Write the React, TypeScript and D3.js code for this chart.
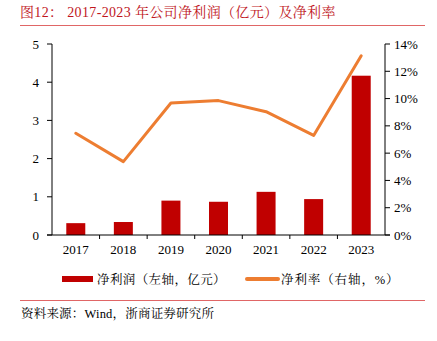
import React from "react";
import * as d3 from "d3";

const years = ["2017", "2018", "2019", "2020", "2021", "2022", "2023"];
const netProfit = [0.31, 0.34, 0.9, 0.87, 1.13, 0.94, 4.17];
const netMargin = [7.46, 5.38, 9.68, 9.85, 9.04, 7.3, 13.14];
const leftTicks = [0, 1, 2, 3, 4, 5];
const rightTicks = [0, 2, 4, 6, 8, 10, 12, 14];

const W = 437;
const H = 341;
const serif = "'Liberation Serif', 'Times New Roman', 'Noto Sans CJK SC', serif";
const cjk = "'Liberation Serif', 'Noto Serif CJK SC', 'Noto Sans CJK SC', serif";

export default function App() {
  const left = 52;
  const right = 385;
  const top = 44;
  const bottom = 235;
  const xb = d3.scaleBand<string>().domain(years).range([left, right]);
  const yL = d3.scaleLinear().domain([0, 5]).range([bottom, top]);
  const yR = d3.scaleLinear().domain([0, 14]).range([bottom, top]);
  const line = d3
    .line<number>()
    .x((_, i) => (xb(years[i]) as number) + xb.bandwidth() / 2)
    .y((d) => yR(d));

  return (
    <svg width={W} height={H} style={{ position: "absolute", left: 0, top: 0, background: "#fff" }}>
      <text x={20} y={17} fontSize={14} fill="#c0161d" fontFamily={cjk} letterSpacing={0.35}>
        图12：  2017-2023 年公司净利润（亿元）及净利率
      </text>
      <line x1={20} x2={425} y1={25.5} y2={25.5} stroke="#e06666" strokeWidth={1} />

      {years.map((y, i) => (
        <rect
          key={y}
          x={(xb(y) as number) + xb.bandwidth() / 2 - 9.5}
          y={yL(netProfit[i])}
          width={19}
          height={bottom - yL(netProfit[i])}
          fill="#c00000"
        />
      ))}
      <path d={line(netMargin) || ""} fill="none" stroke="#ed7d31" strokeWidth={3} strokeLinejoin="round" strokeLinecap="round" />

      {/* left axis */}
      <line x1={left} x2={left} y1={top} y2={bottom} stroke="#000" strokeWidth={1} />
      {leftTicks.map((t) => (
        <g key={t}>
          <line x1={left - 5} x2={left} y1={yL(t)} y2={yL(t)} stroke="#000" />
          <text x={left - 13} y={yL(t) + 4.5} fontSize={13} textAnchor="end" fontFamily={serif}>
            {t}
          </text>
        </g>
      ))}
      {/* right axis */}
      <line x1={right} x2={right} y1={top} y2={bottom} stroke="#000" strokeWidth={1} />
      {rightTicks.map((t) => (
        <g key={t}>
          <line x1={right} x2={right + 5} y1={yR(t)} y2={yR(t)} stroke="#000" />
          <text x={right + 9} y={yR(t) + 4.5} fontSize={13} textAnchor="start" fontFamily={serif}>
            {t}%
          </text>
        </g>
      ))}
      {/* x axis */}
      <line x1={left - 5} x2={right + 5} y1={bottom} y2={bottom} stroke="#000" strokeWidth={1} />
      {years.slice(1).map((y) => (
        <line key={y} x1={xb(y) as number} x2={xb(y) as number} y1={bottom} y2={bottom + 4} stroke="#000" />
      ))}
      {years.map((y) => (
        <text
          key={y}
          x={(xb(y) as number) + xb.bandwidth() / 2}
          y={bottom + 19}
          fontSize={13}
          textAnchor="middle"
          fontFamily={serif}
        >
          {y}
        </text>
      ))}

      {/* legend */}
      <rect x={62} y={276} width={31} height={6} fill="#c00000" />
      <text x={97} y={283.5} fontSize={12.5} fontFamily={cjk} letterSpacing={0.4}>
        净利润（左轴，亿元）
      </text>
      <line x1={247} x2={278} y1={279} y2={279} stroke="#ed7d31" strokeWidth={4} strokeLinecap="round" />
      <text x={281} y={283.5} fontSize={12.5} fontFamily={cjk} letterSpacing={0.9}>
        净利率（右轴，%）
      </text>

      <line x1={20} x2={425} y1={300.5} y2={300.5} stroke="#e06666" strokeWidth={1} />
      <text x={21} y={318} fontSize={12.5} fontFamily={cjk} letterSpacing={0.2}>
        资料来源：Wind，浙商证券研究所
      </text>
    </svg>
  );
}
